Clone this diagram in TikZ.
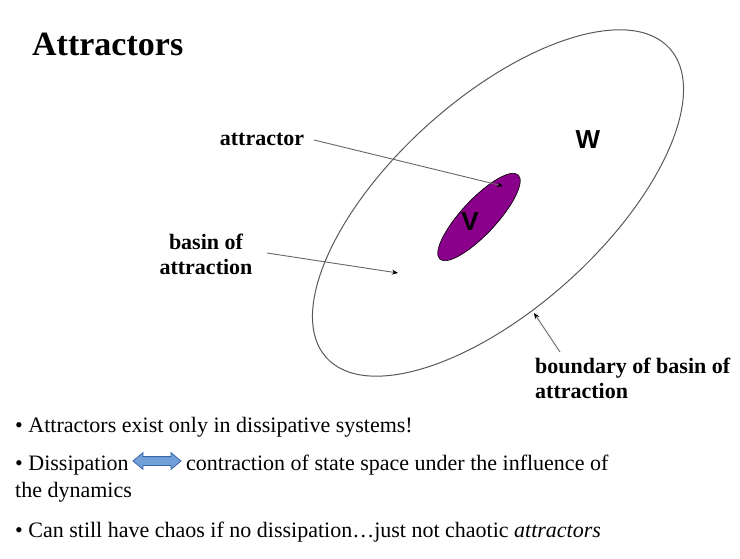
\documentclass[tikz,border=0pt]{standalone}
\usepackage{fontspec}
\setmainfont{Liberation Serif}
\newfontfamily\arial{Liberation Sans}
\usetikzlibrary{arrows.meta,shapes.arrows}

\definecolor{attrpurple}{RGB}{139,0,139}
\definecolor{arrowfill}{RGB}{112,160,215}
\definecolor{arrowline}{RGB}{60,100,170}

\begin{document}
\begin{tikzpicture}[>={Stealth[length=6pt,width=5pt,black]},x=1pt,y=1pt,
  lbl/.style={font=\fontsize{22}{25}\selectfont\bfseries,align=center,inner sep=0pt},
  txt/.style={font=\fontsize{22}{25}\selectfont,anchor=base west,inner sep=0pt},
  ptr/.style={->,black!60,line width=0.9pt}]
\useasboundingbox (0,0) rectangle (740,558);
% title
\node[font=\fontsize{34}{38}\selectfont\bfseries,anchor=base west,inner sep=0pt] (title) at (32,502) {Attractors};
% basin W and attractor V
\draw[black!65,line width=1pt] (498,355) ellipse[x radius=231,y radius=105,rotate=42];
\draw[fill=attrpurple,line width=0.6pt] (479,341) ellipse[x radius=57.5,y radius=17.5,rotate=47];
\node[font=\fontsize{26}{28}\selectfont\arial\bfseries] (W) at (588,418) {W};
\node[font=\fontsize{26}{28}\selectfont\arial\bfseries] (V) at (470,336) {V};
% labels and pointers
\node[lbl] (attr) at (262,419) {attractor};
\coordinate (attrfoot) at (314,418);
\coordinate (attrtip) at (503,372);
\draw[ptr] (attrfoot) -- (attrtip);
\node[lbl] (basin) at (206,304) {basin of\\attraction};
\coordinate (basinfoot) at (267,305);
\coordinate (basintip) at (398,285);
\draw[ptr] (basinfoot) -- (basintip);
\node[lbl,align=left,anchor=north west] (bound) at (535,200) {boundary of basin of\\attraction};
\coordinate (boundfoot) at (560,206);
\coordinate (boundtip) at (534,245);
\draw[ptr] (boundfoot) -- (boundtip);
% bullets
\node[txt] (b1) at (15,126) {\textbullet\ Attractors exist only in dissipative systems!};
\node[txt] (b2) at (15,88) {\textbullet\ Dissipation};
\node[double arrow,draw=arrowline,fill=arrowfill,line width=0.8pt,minimum height=48pt,
  double arrow head extend=4pt,double arrow tip angle=80,inner sep=4pt] (dbl) at (157,97) {};
\node[txt] (b2r) at (186,88) {contraction of state space under the influence of};
\node[txt] (b3) at (15,61) {the dynamics};
\node[txt] (b4) at (15,21) {\textbullet\ Can still have chaos if no dissipation\ldots just not chaotic \textit{attractors}};
\end{tikzpicture}
\end{document}
